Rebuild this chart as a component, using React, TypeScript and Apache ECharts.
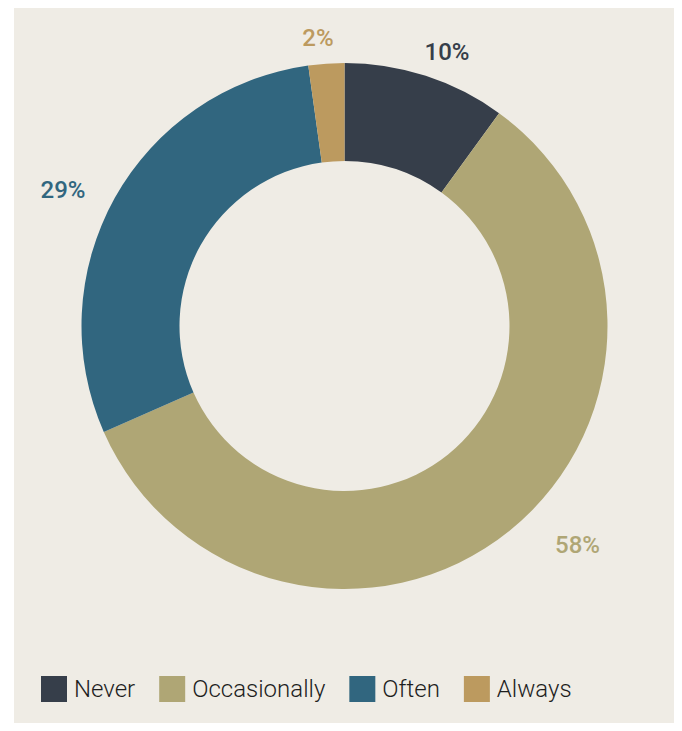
import React, { useEffect, useRef } from "react";
import * as echarts from "echarts";

const categories = ["Never", "Occasionally", "Often", "Always"];
const shares = [10.0, 58.4, 29.4, 2.2];
const colors = ["#363E4A", "#AFA675", "#31667F", "#BC9A5F"];
// label anchor positions (layout only, chart pixel coords)
const labelPos: [number, number][] = [
  [433, 44],
  [563.5, 537],
  [49, 182],
  [304, 30],
];

export default function App() {
  const ref = useRef<HTMLDivElement>(null);
  useEffect(() => {
    if (!ref.current) return;
    const chart = echarts.init(ref.current, undefined, { renderer: "svg" });
    chart.setOption({
      animation: false,
      backgroundColor: "#EFECE5",
      color: colors,
      legend: {
        left: 22,
        top: 663,
        itemWidth: 26,
        itemHeight: 26,
        itemGap: 24,
        icon: "rect",
        data: categories,
        textStyle: {
          fontFamily: "Roboto",
          fontSize: 24,
          fontWeight: 300,
          color: "#1E1E1E",
          padding: [0, 0, 0, 2],
        },
      },
      series: [
        {
          type: "pie",
          center: [330.5, 318],
          radius: [165, 263],
          startAngle: 90,
          clockwise: true,
          avoidLabelOverlap: false,
          label: {
            show: true,
            position: "outside",
            fontFamily: "Roboto",
            fontSize: 24,
            fontWeight: 500,
            formatter: (p: any) => `${Math.round(p.value)}%`,
          },
          labelLine: { show: false },
          labelLayout: (p: any) => ({
            x: labelPos[p.dataIndex][0],
            y: labelPos[p.dataIndex][1],
            align: "center",
            verticalAlign: "middle",
          }),
          emphasis: { disabled: true },
          data: categories.map((name, i) => ({
            name,
            value: shares[i],
            label: { color: colors[i] },
          })),
        },
      ],
    });
    return () => chart.dispose();
  }, []);
  return (
    <div
      ref={ref}
      style={{ marginLeft: 6, width: 661, height: 715, background: "#EFECE5" }}
    />
  );
}
